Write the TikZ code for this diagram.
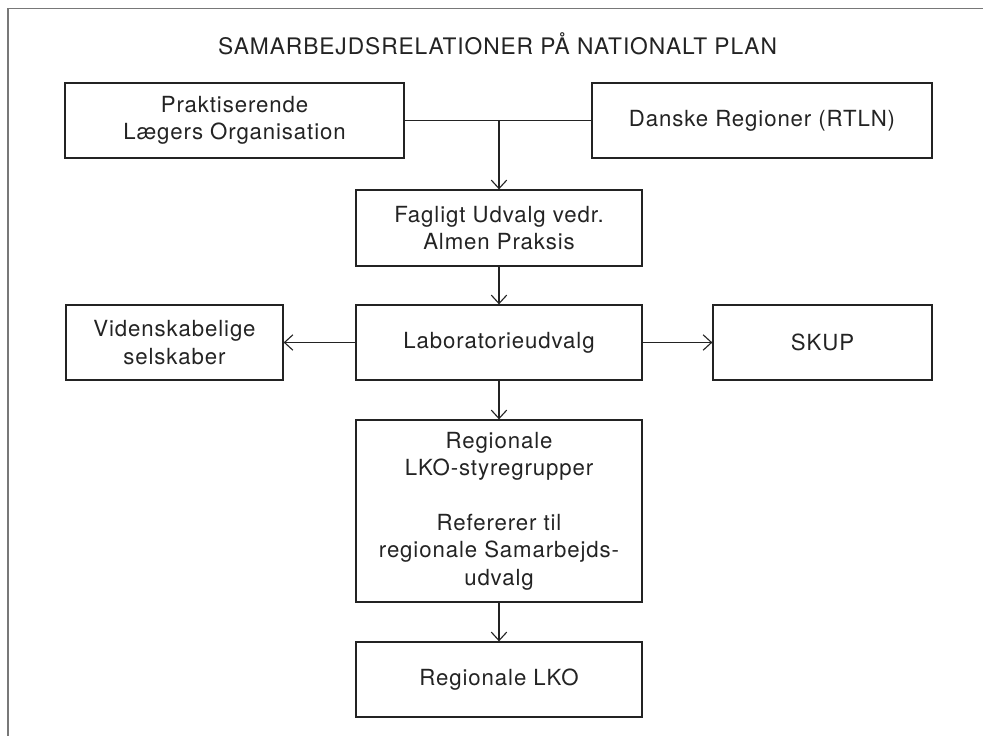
\documentclass[tikz,border=0pt]{standalone}
\usepackage{fontspec}
\setmainfont{TeX Gyre Heros}[LetterSpace=4]
\usepackage{tikz}
\usetikzlibrary{arrows.meta, positioning}
\definecolor{frame}{RGB}{120,120,120}
\definecolor{ink}{RGB}{35,35,35}
\tikzset{
    box/.style={rectangle, minimum height=1.875cm, text centered, draw=ink, line width=0.9pt, align=center, text=ink, font=\fontsize{15.8}{19.5}\selectfont},
    arrow/.style={-{Straight Barb[length=6pt, width=11pt]}, draw=ink, line width=0.8pt}
}
\begin{document}
\begin{tikzpicture}
    \useasboundingbox (0,0) rectangle (24.575,-18.4);
    % Frame
    \draw[frame, line width=1.4pt] (0.2,-18.5) -- (0.2,-0.2125) -- (24.7,-0.2125);
    \node[text=ink, font=\fontsize{16.2}{19}\selectfont] (title) at (12.44,-1.1) {SAMARBEJDSRELATIONER PÅ NATIONALT PLAN};

    % Boxes
    \node[box, minimum width=8.475cm] (plo) at (5.8625,-3.0125) {Praktiserende\\Lægers Organisation};
    \node[box, minimum width=8.5cm] (regioner) at (19.05,-3.0125) {Danske Regioner (RTLN)};
    \node[box, minimum width=7.15cm, minimum height=1.9cm] (fagligt) at (12.475,-5.7) {Fagligt Udvalg vedr.\\Almen Praksis};
    \node[box, minimum width=7.15cm] (lab) at (12.475,-8.5625) {Laboratorieudvalg};
    \node[box, minimum width=5.425cm] (viden) at (4.3625,-8.5625) {Videnskabelige\\selskaber};
    \node[box, minimum width=5.475cm] (skup) at (20.5625,-8.5625) {SKUP};
    \node[box, minimum width=7.15cm, minimum height=4.55cm] (styre) at (12.475,-12.775) {Regionale\\LKO-styregrupper\\[19.5pt]Refererer til\\regionale Samarbejds-\\udvalg};
    \node[box, minimum width=7.15cm] (lko) at (12.475,-16.9875) {Regionale LKO};

    % Connectors
    \coordinate (join) at (fagligt.north |- plo.east);
    \draw[draw=ink, line width=0.8pt] (plo.east) -- (regioner.west);
    \draw[arrow] (join) -- (fagligt.north);
    \draw[arrow] (fagligt) -- (lab);
    \draw[arrow] (lab) -- (viden);
    \draw[arrow] (lab) -- (skup);
    \draw[arrow] (lab) -- (styre);
    \draw[arrow] (styre) -- (lko);
\end{tikzpicture}
\end{document}
